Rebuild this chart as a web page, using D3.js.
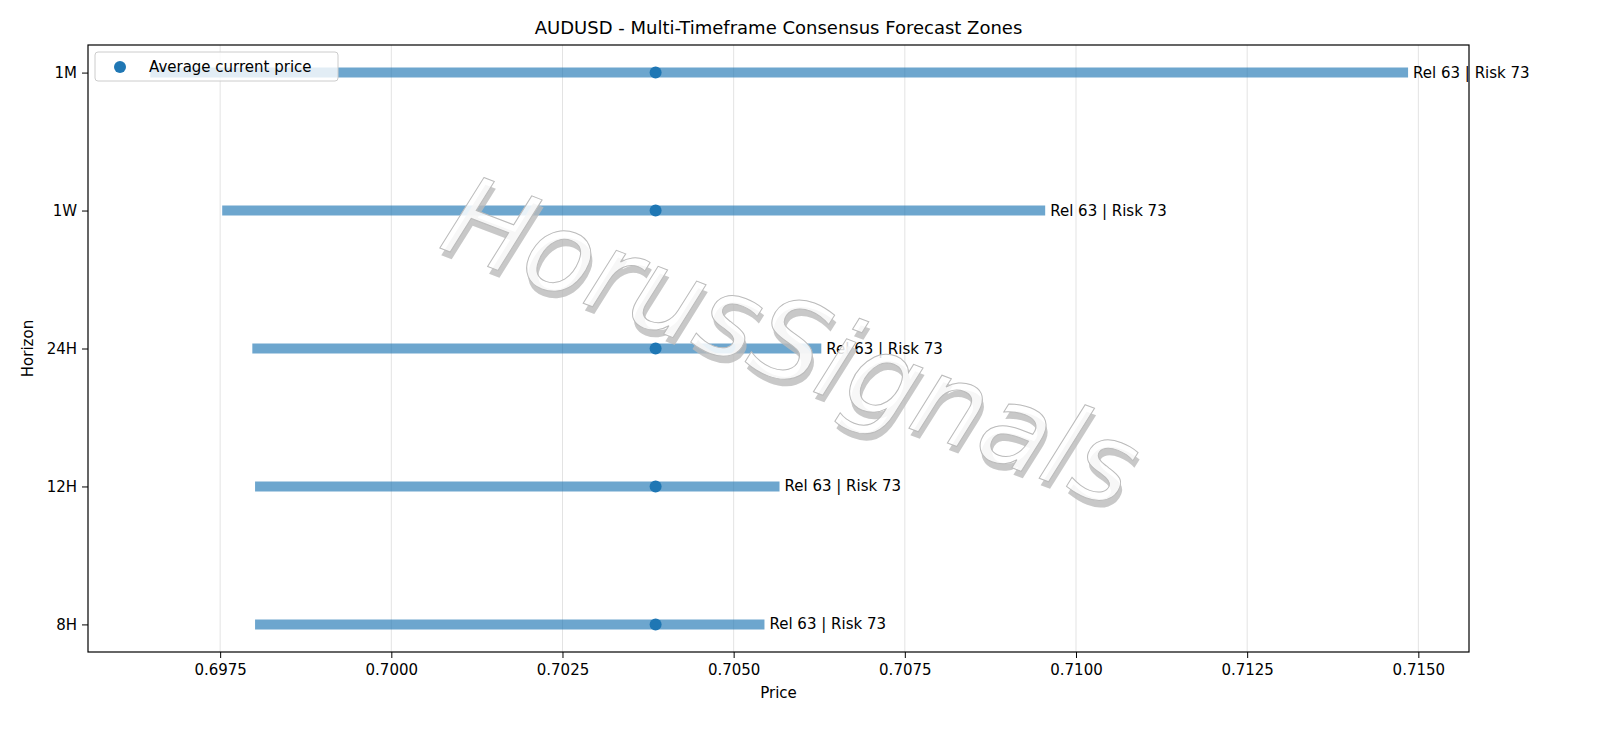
<!DOCTYPE html>
<html><head><meta charset="utf-8">
<script src="https://cdn.jsdelivr.net/npm/d3@7"></script>
<style>body{margin:0;background:#fff}text{font-family:"DejaVu Sans",sans-serif}</style>
</head><body><svg id="c" width="1600" height="738"></svg>
<script>
// Forecast zones per horizon
const horizons = ["8H", "12H", "24H", "1W", "1M"];
const lows = [0.69801, 0.69801, 0.69797, 0.69753, 0.69648];
const highs = [0.70545, 0.70567, 0.70628, 0.70955, 0.71485];
const currentPrice = [0.70386, 0.70386, 0.70386, 0.70386, 0.70386];
const labels = ["Rel 63 | Risk 73", "Rel 63 | Risk 73", "Rel 63 | Risk 73", "Rel 63 | Risk 73", "Rel 63 | Risk 73"];
const xTicks = [0.6975, 0.7000, 0.7025, 0.7050, 0.7075, 0.7100, 0.7125, 0.7150];

const svg = d3.select("#c");
const margin = { top: 45, right: 131, bottom: 86, left: 88 };
const W = 1600 - margin.left - margin.right, H = 738 - margin.top - margin.bottom;
const g = svg.append("g").attr("transform", `translate(${margin.left},${margin.top})`);

const x = d3.scaleLinear().domain([0.69557, 0.71574]).range([0, W]);
const y = d3.scaleLinear().domain([-0.2, 4.2]).range([H, 0]);

// grid
g.selectAll(".grid").data(xTicks).join("line")
    .attr("x1", d => x(d)).attr("x2", d => x(d)).attr("y1", 0).attr("y2", H)
    .attr("stroke", "#e3e3e3").attr("stroke-width", 1);

// zones
g.selectAll(".zone").data(horizons).join("line")
    .attr("x1", (d, i) => x(lows[i])).attr("x2", (d, i) => x(highs[i]))
    .attr("y1", (d, i) => y(i)).attr("y2", (d, i) => y(i))
    .attr("stroke", "#1f77b4").attr("stroke-opacity", 0.65).attr("stroke-width", 10);

g.selectAll(".pt").data(horizons).join("circle")
    .attr("cx", (d, i) => x(currentPrice[i])).attr("cy", (d, i) => y(i))
    .attr("r", 6).attr("fill", "#1f77b4");

g.selectAll(".lbl").data(horizons).join("text")
    .attr("x", (d, i) => x(highs[i]) + 5).attr("y", (d, i) => y(i) + 5)
    .attr("font-size", 15).text((d, i) => labels[i]);

// watermark
const wm = svg.append("g").attr("transform", "translate(778,378) rotate(21)");
wm.append("text").attr("x", 4).attr("y", 6).attr("text-anchor", "middle").attr("font-size", 112)
    .attr("font-style", "italic").attr("fill", "#bbb").attr("opacity", 0.8).text("HorusSignals");
wm.append("text").attr("text-anchor", "middle").attr("font-size", 112)
    .attr("font-style", "italic").attr("fill", "#fff").attr("fill-opacity", 0.85)
    .attr("stroke", "#bbb").attr("stroke-width", 1).text("HorusSignals");

// axes
const xa = g.append("g").attr("transform", `translate(0,${H})`)
    .call(d3.axisBottom(x).tickValues(xTicks).tickFormat(d3.format(".4f")).tickSizeOuter(0));
const ya = g.append("g").call(d3.axisLeft(y).tickValues([0, 1, 2, 3, 4]).tickFormat(i => horizons[i]).tickSizeOuter(0));
[xa, ya].forEach(a => { a.selectAll("text").attr("font-size", 15).attr("fill", "#000"); a.selectAll("line").attr("stroke", "#000"); a.select(".domain").remove(); });
ya.selectAll("text").attr("dx", -2);
xa.selectAll("text").attr("dy", "0.9em");
g.append("rect").attr("width", W).attr("height", H).attr("fill", "none").attr("stroke", "#000").attr("stroke-width", 1.2);

svg.append("text").attr("x", margin.left + W / 2).attr("y", 34).attr("text-anchor", "middle").attr("font-size", 18)
    .text("AUDUSD - Multi-Timeframe Consensus Forecast Zones");
svg.append("text").attr("x", margin.left + W / 2).attr("y", 698).attr("text-anchor", "middle").attr("font-size", 15).text("Price");
svg.append("text").attr("transform", `translate(33,${margin.top + H / 2}) rotate(-90)`).attr("text-anchor", "middle").attr("font-size", 15).text("Horizon");

// legend
const lg = svg.append("g").attr("transform", "translate(95,52)");
lg.append("rect").attr("width", 243).attr("height", 29).attr("rx", 3).attr("fill", "#fff").attr("fill-opacity", 0.8).attr("stroke", "#ccc");
lg.append("circle").attr("cx", 25).attr("cy", 15).attr("r", 6).attr("fill", "#1f77b4");
lg.append("text").attr("x", 54).attr("y", 20).attr("font-size", 15).text("Average current price");
</script></body></html>
